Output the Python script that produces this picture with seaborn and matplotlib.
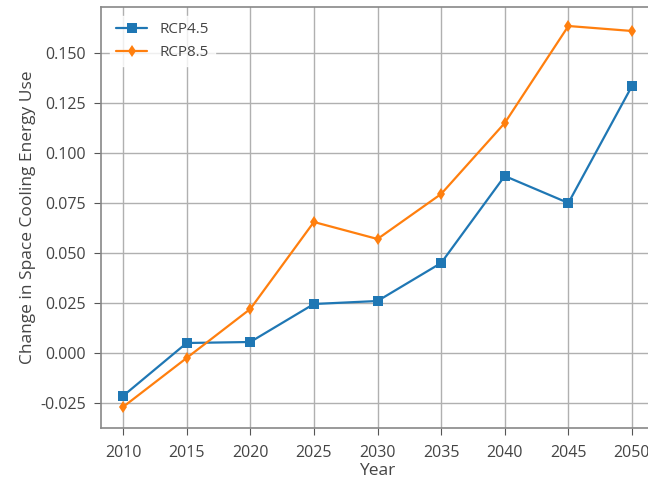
import matplotlib
matplotlib.use("Agg")
import matplotlib.pyplot as plt
import seaborn as sns
import pandas as pd

years = [2010, 2015, 2020, 2025, 2030, 2035, 2040, 2045, 2050]
rcp45 = [-0.0215, 0.0050, 0.0055, 0.0245, 0.0260, 0.0450, 0.0885, 0.0750, 0.1335]
rcp85 = [-0.0270, -0.0025, 0.0220, 0.0655, 0.0570, 0.0795, 0.1150, 0.1635, 0.1610]
scenarios = ["RCP4.5", "RCP8.5"]
y_ticks = [-0.025, 0.0, 0.025, 0.05, 0.075, 0.1, 0.125, 0.15]

df = pd.DataFrame({
    "Year": years * 2,
    "Change": rcp45 + rcp85,
    "Scenario": [scenarios[0]] * len(years) + [scenarios[1]] * len(years),
})

sns.set_style("ticks")
plt.rcParams["font.family"] = ["Open Sans", "DejaVu Sans"]
plt.rcParams["text.color"] = "#444444"
plt.rcParams["axes.labelcolor"] = "#444444"
plt.rcParams["xtick.color"] = "#444444"
plt.rcParams["ytick.color"] = "#444444"

fig = plt.figure(figsize=(6.48, 4.79), dpi=100)
ax = fig.add_axes([101 / 648, 1 - 428 / 479, 553 / 648, 421 / 479])

sns.lineplot(
    data=df, x="Year", y="Change", hue="Scenario", style="Scenario",
    markers={"RCP4.5": "s", "RCP8.5": "d"}, dashes=False,
    palette={"RCP4.5": "#1f77b4", "RCP8.5": "#ff7f0e"},
    markersize=6.5, linewidth=1.6, markeredgewidth=0, ax=ax,
)

ax.set_xlim(2008.27, 2051.73)
ax.set_ylim(-0.0375, 0.173)
ax.set_xticks(years)
ax.set_yticks(y_ticks)
ax.set_yticklabels([f"{v:.3f}" for v in y_ticks])
ax.tick_params(labelsize=11.5, length=5, color="#555555")
ax.tick_params(axis="x", pad=7)
ax.tick_params(axis="y", pad=6)
ax.grid(True, color="#b0b0b0", linewidth=1)
ax.set_axisbelow(True)
for s in ax.spines.values():
    s.set_color("#888888")
    s.set_linewidth(1.2)

ax.set_xlabel("Year", fontsize=12.5, labelpad=2)
ax.set_ylabel("Change in Space Cooling Energy Use", fontsize=12.5, labelpad=3)

leg = ax.legend(loc="upper left", frameon=True, fontsize=11, borderaxespad=0.6)
leg.get_frame().set_facecolor("white")
leg.get_frame().set_edgecolor("white")
leg.get_frame().set_alpha(0.8)

fig.savefig("out.png", dpi=100)
